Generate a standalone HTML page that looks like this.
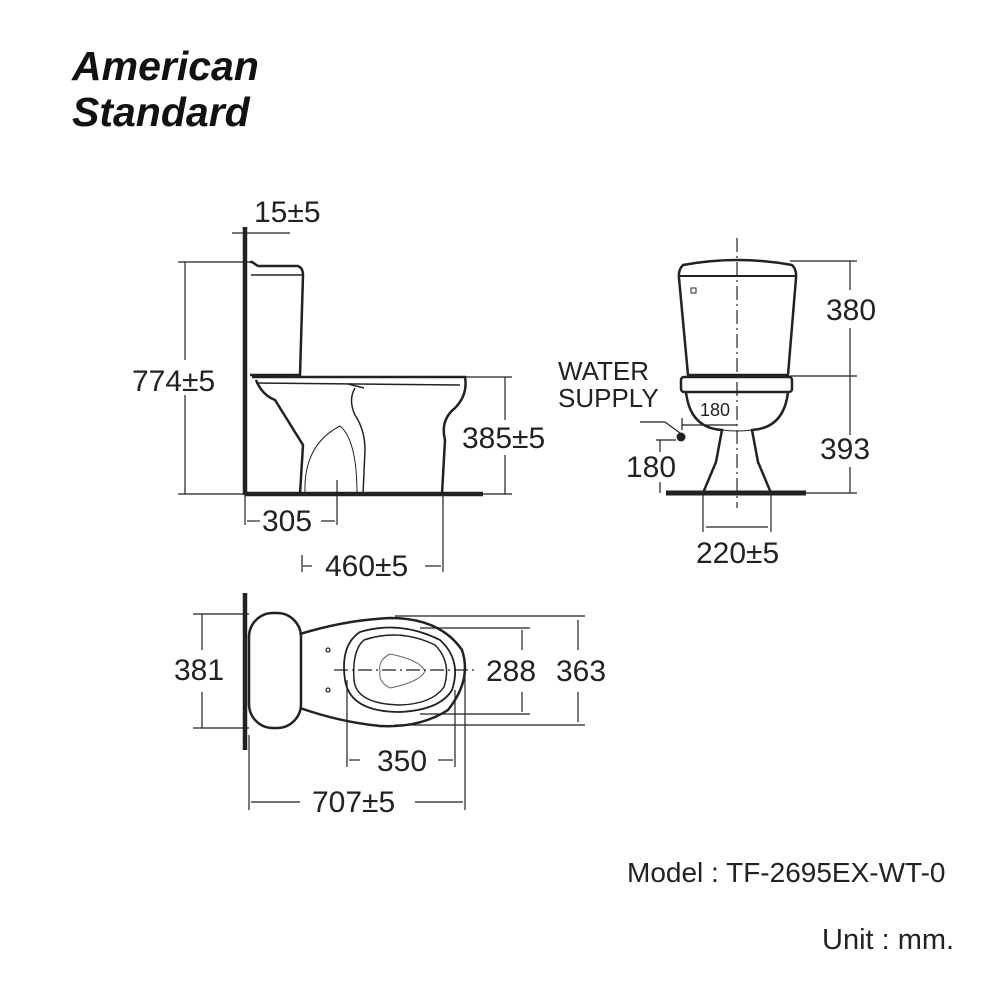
<!DOCTYPE html>
<html><head><meta charset="utf-8"><style>
html,body{margin:0;padding:0;background:#fff;}
svg{display:block;}
text{font-family:"Liberation Sans",sans-serif;fill:#222;}
</style></head><body>
<svg width="1000" height="1000" viewBox="0 0 1000 1000" xmlns="http://www.w3.org/2000/svg">
<!-- Logo -->
<text x="72" y="80" font-size="41" font-weight="bold" font-style="italic" font-family="Liberation Serif,serif" style="fill:#111">American</text>
<text x="72" y="126" font-size="41" font-weight="bold" font-style="italic" font-family="Liberation Serif,serif" style="fill:#111">Standard</text>

<g stroke="#222" fill="none" stroke-width="1.2">
<!-- SIDE VIEW -->
<line x1="245" y1="227" x2="245" y2="495" stroke-width="4.5"/>
<line x1="245" y1="494" x2="483" y2="494" stroke-width="4.5"/>
<line x1="232" y1="233" x2="290" y2="233"/>
<path d="M250 262 L252 262 L258 266 L298 266 Q303 268 303 275 L300 375 L250 375" stroke-width="2.5"/>
<line x1="251" y1="275" x2="302" y2="275" stroke-width="1.5"/>
<path d="M252 377 L465 377 Q468 395 455 408 Q440 420 445 440 L442 494" stroke-width="2.5"/>
<path d="M256 383 L460 385" stroke-width="1.5"/>
<path d="M256 380 Q262 395 275 400 L303 445 L300 494" stroke-width="2.5"/>
<path d="M348 384 L364 388 M355 388 Q348 400 355 415 Q365 430 365 450 L363 494" stroke-width="1.5"/>
<path d="M305 494 Q303 445 340 426 Q357 440 357 494" stroke-width="1"/>
<line x1="178" y1="262" x2="250" y2="262"/>
<line x1="178" y1="494" x2="245" y2="494"/>
<line x1="185" y1="262" x2="185" y2="360"/>
<line x1="185" y1="395" x2="185" y2="494"/>
<line x1="465" y1="377" x2="512" y2="377"/>
<line x1="483" y1="494" x2="512" y2="494"/>
<line x1="505" y1="377" x2="505" y2="420"/>
<line x1="505" y1="455" x2="505" y2="494"/>
<line x1="245" y1="494" x2="245" y2="525"/>
<line x1="337" y1="480" x2="337" y2="525"/>
<line x1="247" y1="521" x2="260" y2="521"/>
<line x1="321" y1="521" x2="335" y2="521"/>
<line x1="302" y1="555" x2="302" y2="572"/>
<line x1="443" y1="494" x2="443" y2="572"/>
<line x1="303" y1="566" x2="312" y2="566"/>
<line x1="425" y1="566" x2="441" y2="566"/>

<!-- FRONT VIEW -->
<line x1="737" y1="238" x2="737" y2="508" stroke-dasharray="14,4,2,4"/>
<path d="M683 265 Q737 255 792 265 Q797 270 796 278 L788 375 L688 375 L679 278 Q678 270 683 265 Z" stroke-width="2.5"/>
<line x1="679" y1="276" x2="796" y2="276" stroke-width="2"/>
<rect x="691" y="288" width="5" height="5" stroke-width="1"/>
<rect x="681" y="377" width="111" height="15" rx="3" stroke-width="2.5"/>
<path d="M686 392 Q690 428 722 430 L716 462 L703 493 M788 392 Q784 428 752 430 L758 462 L771 493" stroke-width="2.5"/>
<path d="M722 430 Q737 432 752 430" stroke-width="1"/>
<line x1="666" y1="493" x2="806" y2="493" stroke-width="5"/>
<line x1="790" y1="261" x2="857" y2="261"/>
<line x1="790" y1="376" x2="857" y2="376"/>
<line x1="806" y1="493" x2="857" y2="493"/>
<line x1="850" y1="261" x2="850" y2="290"/>
<line x1="850" y1="328" x2="850" y2="435"/>
<line x1="850" y1="467" x2="850" y2="493"/>
<line x1="640" y1="422" x2="665" y2="422"/>
<line x1="665" y1="422" x2="680" y2="433"/>
<line x1="656" y1="440" x2="676" y2="440"/>
<line x1="660" y1="440" x2="660" y2="452"/>
<line x1="660" y1="482" x2="660" y2="493"/>
<line x1="682" y1="425" x2="737" y2="425"/>
<line x1="682" y1="418" x2="682" y2="430"/>
<line x1="703" y1="493" x2="703" y2="532"/>
<line x1="771" y1="493" x2="771" y2="532"/>
<line x1="706" y1="527" x2="768" y2="527"/>

<!-- TOP VIEW -->
<line x1="245" y1="593" x2="245" y2="750" stroke-width="4.5"/>
<rect x="249" y="613" width="52" height="115" rx="24" stroke-width="2.5"/>
<path d="M300 634 Q345 620 390 618 Q440 618 462 650 Q472 680 448 710 Q420 728 380 726 Q340 722 300 708" stroke-width="2.5"/>
<path d="M360 632 Q400 620 440 640 Q462 660 452 690 Q440 710 400 712 Q350 712 345 680 Q340 645 360 632 Z" stroke-width="1.8"/>
<path d="M364 640 Q400 628 435 645 Q452 662 444 687 Q432 704 400 705 Q356 704 354 680 Q352 650 364 640 Z" stroke-width="1.5"/>
<path d="M390 654 Q420 660 425 671 Q420 682 390 688 Q378 682 380 671 Q378 660 390 654" stroke-width="1" stroke="#666"/>
<line x1="334" y1="670" x2="475" y2="670" stroke-dasharray="14,4,2,4"/>
<circle cx="328" cy="650" r="2"/>
<circle cx="328" cy="690" r="2"/>
<line x1="193" y1="614" x2="249" y2="614"/>
<line x1="193" y1="728" x2="249" y2="728"/>
<line x1="202" y1="614" x2="202" y2="650"/>
<line x1="202" y1="692" x2="202" y2="728"/>
<line x1="395" y1="616" x2="585" y2="616"/>
<line x1="395" y1="725" x2="585" y2="725"/>
<line x1="578" y1="620" x2="578" y2="650"/>
<line x1="578" y1="692" x2="578" y2="722"/>
<line x1="420" y1="628" x2="530" y2="628"/>
<line x1="420" y1="714" x2="530" y2="714"/>
<line x1="522" y1="630" x2="522" y2="650"/>
<line x1="522" y1="692" x2="522" y2="712"/>
<line x1="347" y1="680" x2="347" y2="767"/>
<line x1="455" y1="690" x2="455" y2="767"/>
<line x1="349" y1="760" x2="360" y2="760"/>
<line x1="438" y1="760" x2="453" y2="760"/>
<line x1="249" y1="735" x2="249" y2="810"/>
<line x1="465" y1="670" x2="465" y2="810"/>
<line x1="251" y1="802" x2="300" y2="802"/>
<line x1="415" y1="802" x2="463" y2="802"/>
</g>
<circle cx="681" cy="437" r="4.5" fill="#222"/>

<g font-size="30">
<text x="254" y="222">15±5</text>
<text x="132" y="391">774±5</text>
<text x="462" y="448">385±5</text>
<text x="262" y="531">305</text>
<text x="325" y="576">460±5</text>
<text x="826" y="320">380</text>
<text x="820" y="459">393</text>
<text x="626" y="477">180</text>
<text x="696" y="563">220±5</text>
<text x="174" y="680">381</text>
<text x="486" y="681">288</text>
<text x="556" y="681">363</text>
<text x="377" y="771">350</text>
<text x="312" y="812">707±5</text>
</g>
<text x="558" y="380" font-size="26">WATER</text>
<text x="558" y="407" font-size="26">SUPPLY</text>
<text x="700" y="416" font-size="18">180</text>
<text x="627" y="882" font-size="28">Model : TF-2695EX-WT-0</text>
<text x="822" y="949" font-size="29">Unit : mm.</text>
</svg>
</body></html>
